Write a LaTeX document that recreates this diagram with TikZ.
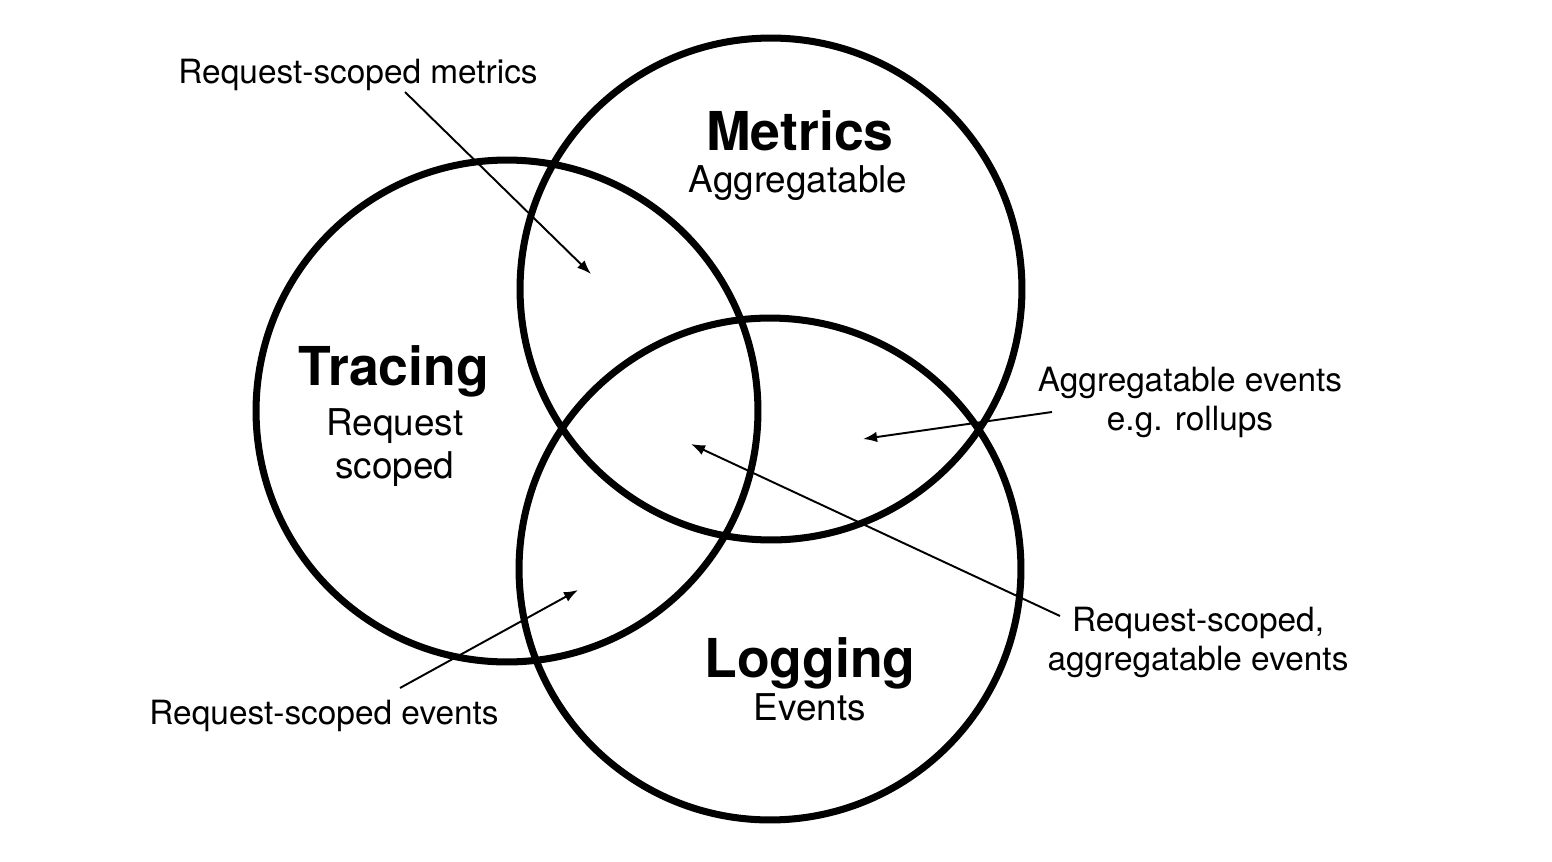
\documentclass[tikz,border=0pt]{standalone}
\usepackage{fontspec}
\setmainfont{TeX Gyre Heros}
\usetikzlibrary{arrows.meta}

\begin{document}
\begin{tikzpicture}[x=0.02cm,y=-0.02cm,
  ring/.style={shape=circle,draw=black,line width=4pt,minimum size=10.04cm,inner sep=0pt},
  title/.style={anchor=base,inner sep=0pt,font=\bfseries\fontsize{30.5}{34}\selectfont},
  sub/.style={anchor=base,inner sep=0pt,font=\fontsize{21}{24}\selectfont},
  note/.style={anchor=base,inner sep=0pt,align=center,font=\fontsize{19}{22.2}\selectfont},
  pointer/.style={-{Latex[length=8pt,width=6pt]},draw=black,line width=1.1pt}]
\useasboundingbox (0,0) rectangle (1552,862);
\node[ring] (metrics) at (771,289) {};
\node[ring] (tracing) at (507,411) {};
\node[ring] (logging) at (770,569) {};

\node[title] (metricsname) at (800,150) {Metrics};
\node[sub] (metricssub) at (798,192) {Aggregatable};
\node[title] (tracingname) at (394,385) {Tracing};
\node[sub] (tracingsub1) at (395,435) {Request};
\node[sub] (tracingsub2) at (395,478) {scoped};
\node[title] (loggingname) at (810,677) {Logging};
\node[sub] (loggingsub) at (810,720) {Events};

% base of a two-line note is its last line
\node[note] (reqmetrics) at (358,83) {Request-scoped metrics};
\node[note] (aggevents) at (1190,430) {Aggregatable events\\e.g. rollups};
\node[note] (reqaggevents) at (1198,670) {Request-scoped,\\aggregatable events};
\node[note] (reqevents) at (324,724) {Request-scoped events};

\coordinate (reqmetrics tail) at (405,92);
\coordinate (reqmetrics tip) at (591,274);
\coordinate (aggevents tail) at (1052,412);
\coordinate (aggevents tip) at (863,439);
\coordinate (reqaggevents tail) at (1060,616);
\coordinate (reqaggevents tip) at (691,444);
\coordinate (reqevents tail) at (400,688);
\coordinate (reqevents tip) at (578,590);

\path (reqmetrics tail) edge[pointer] node {} (reqmetrics tip);
\path (aggevents tail) edge[pointer] node {} (aggevents tip);
\path (reqaggevents tail) edge[pointer] node {} (reqaggevents tip);
\path (reqevents tail) edge[pointer] node {} (reqevents tip);
\end{tikzpicture}
\end{document}
